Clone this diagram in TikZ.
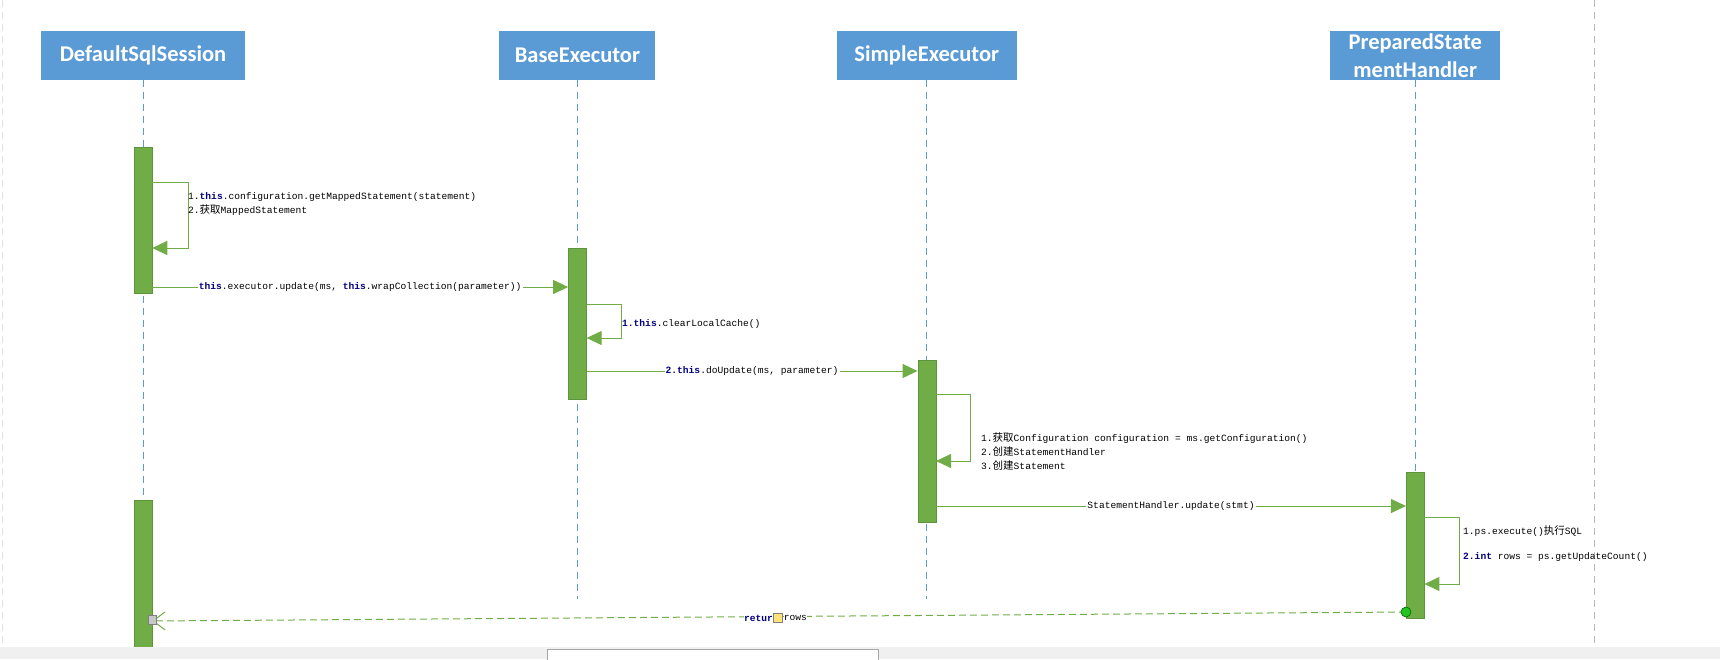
\documentclass[tikz,border=0pt]{standalone}
\usepackage{fontspec}
\setmainfont{Carlito}
\setmonofont{Liberation Mono}
\newfontfamily\cjk{Noto Sans CJK SC}
\usetikzlibrary{positioning}
\usetikzlibrary{arrows.meta}
\definecolor{headblue}{HTML}{5B9BD5}
\definecolor{bargreen}{HTML}{70AD47}
\definecolor{kwblue}{HTML}{000080}
\definecolor{dotgreen}{HTML}{22C322}
\definecolor{handleyellow}{HTML}{FFE27A}
\newcommand{\kw}[1]{\textcolor{kwblue}{\textbf{#1}}}
\newcommand{\zh}[1]{{\cjk\fontsize{10.5}{12}\selectfont #1}}

\begin{document}
\begin{tikzpicture}[x=1pt, y=-1pt,
    head/.style={fill=headblue, text=white, font=\fontsize{22.5}{28}\selectfont\bfseries, minimum height=49pt, inner sep=0pt, align=center},
    life/.style={headblue, line width=0.8pt, dash pattern=on 7pt off 5pt},
    bar/.style={fill=bargreen, draw=bargreen!85!black, line width=0.5pt, minimum width=18pt, inner sep=0pt, anchor=north},
    call/.style={bargreen, line width=1pt, -{Triangle[length=15pt,width=14pt]}},
    msg/.style={text=black, font=\ttfamily\fontsize{9.6}{14.5}\selectfont, inner sep=1pt},
    lbl/.style={msg, fill=white},
    ret/.style={bargreen, line width=1pt, dash pattern=on 7pt off 4pt, -{Straight Barb[length=12pt,width=18pt]}},
    divider/.style={black!27, line width=0.8pt, dash pattern=on 7pt off 5pt}]
    \useasboundingbox (0,0) rectangle (1720,659);

    % Window frame
    \draw[black!12, line width=0.8pt, dash pattern=on 7pt off 5pt] (2,0) -- (2,647);
    \draw[divider] (1594,0) -- (1594,647);

    % Lifeline heads
    \node (dss) [head, minimum width=204pt] at (143,55.5) {DefaultSqlSession};
    \node (be) [head, minimum width=156pt, right=254pt of dss] {BaseExecutor};
    \node (se) [head, minimum width=180pt, right=181pt of be] {SimpleExecutor};
    \node (psh) [head, minimum width=170pt, right=313pt of se] {PreparedState\\mentHandler};

    % Lifelines
    \draw[life] (dss.south) -- (dss.south |- 0,647);
    \draw[life] (be.south) -- (be.south |- 0,599);
    \draw[life] (se.south) -- (se.south |- 0,599);
    \draw[life] (psh.south) -- (psh.south |- 0,599);

    % Activation bars
    \node (dssA) [bar, minimum height=146pt] at (dss.south |- 0,147) {};
    \node (dssB) [bar, minimum height=147pt] at (dss.south |- 0,500) {};
    \node (beA) [bar, minimum height=151pt] at (be.south |- 0,248) {};
    \node (seA) [bar, minimum height=162pt] at (se.south |- 0,360) {};
    \node (psA) [bar, minimum height=146pt] at (psh.south |- 0,472) {};

    % DefaultSqlSession
    \draw[call] (dssA.east |- 0,182) -- ++(36,0) |- (dssA.east |- 0,248);
    \node (dssNote) [msg, anchor=west, align=left] at (187,204) {1.\kw{this}.configuration.getMappedStatement(statement)\\2.\zh{获取}MappedStatement};
    \draw[call] (dssA.east |- 0,287) -- node[lbl] {\kw{this}.executor.update(ms, \kw{this}.wrapCollection(parameter))} (beA.west |- 0,287);

    % BaseExecutor
    \draw[call] (beA.east |- 0,304) -- ++(35,0) |- (beA.east |- 0,338);
    \node (beNote) [msg, anchor=west] at (621,324) {\kw{1.this}.clearLocalCache()};
    \draw[call] (beA.east |- 0,371) -- node[lbl] {\kw{2.this}.doUpdate(ms, parameter)} (seA.west |- 0,371);

    % SimpleExecutor
    \draw[call] (seA.east |- 0,394) -- ++(34,0) |- (seA.east |- 0,461);
    \node (seNote) [msg, anchor=west, align=left, font=\ttfamily\fontsize{9.6}{14}\selectfont] at (980,452) {1.\zh{获取}Configuration configuration = ms.getConfiguration()\\2.\zh{创建}StatementHandler\\3.\zh{创建}Statement};
    \draw[call] (seA.east |- 0,506) -- node[lbl] {StatementHandler.update(stmt)} (psA.west |- 0,506);

    % PreparedStatementHandler
    \draw[call] (psA.east |- 0,517) -- ++(35,0) |- (psA.east |- 0,584);
    \node (psNote) [msg, anchor=west, align=left] at (1462,544) {1.ps.execute()\zh{执行}SQL\\[10.5pt]\kw{2.int} rows = ps.getUpdateCount()};

    % Return
    \draw[ret] (psA.west |- 0,612) -- (dssB.east |- 0,621);
    \node (retStart) [circle, fill=dotgreen, draw=green!40!black, line width=0.6pt, minimum size=10pt, inner sep=0pt] at (psA.west |- 0,612) {};
    \node (retEnd) [fill=black!22, draw=black!50, line width=0.6pt, minimum width=8pt, minimum height=9pt, inner sep=0pt] at (dssB.east |- 0,620) {};
    \node (retKw) [msg, fill=white, anchor=east, inner sep=0pt] at (773,618) {\kw{retur}};
    \node (hnd) [fill=handleyellow, draw=black!50, line width=0.6pt, minimum size=9pt, inner sep=0pt, right=0pt of retKw] {};
    \node (retRows) [msg, fill=white, inner sep=0pt, right=1pt of hnd] {rows};

    % Status bar
    \fill[black!6] (0,647) rectangle (1720,659);
    \draw[black!35, fill=white, line width=0.8pt] (547,649) rectangle (878,660);
\end{tikzpicture}
\end{document}
